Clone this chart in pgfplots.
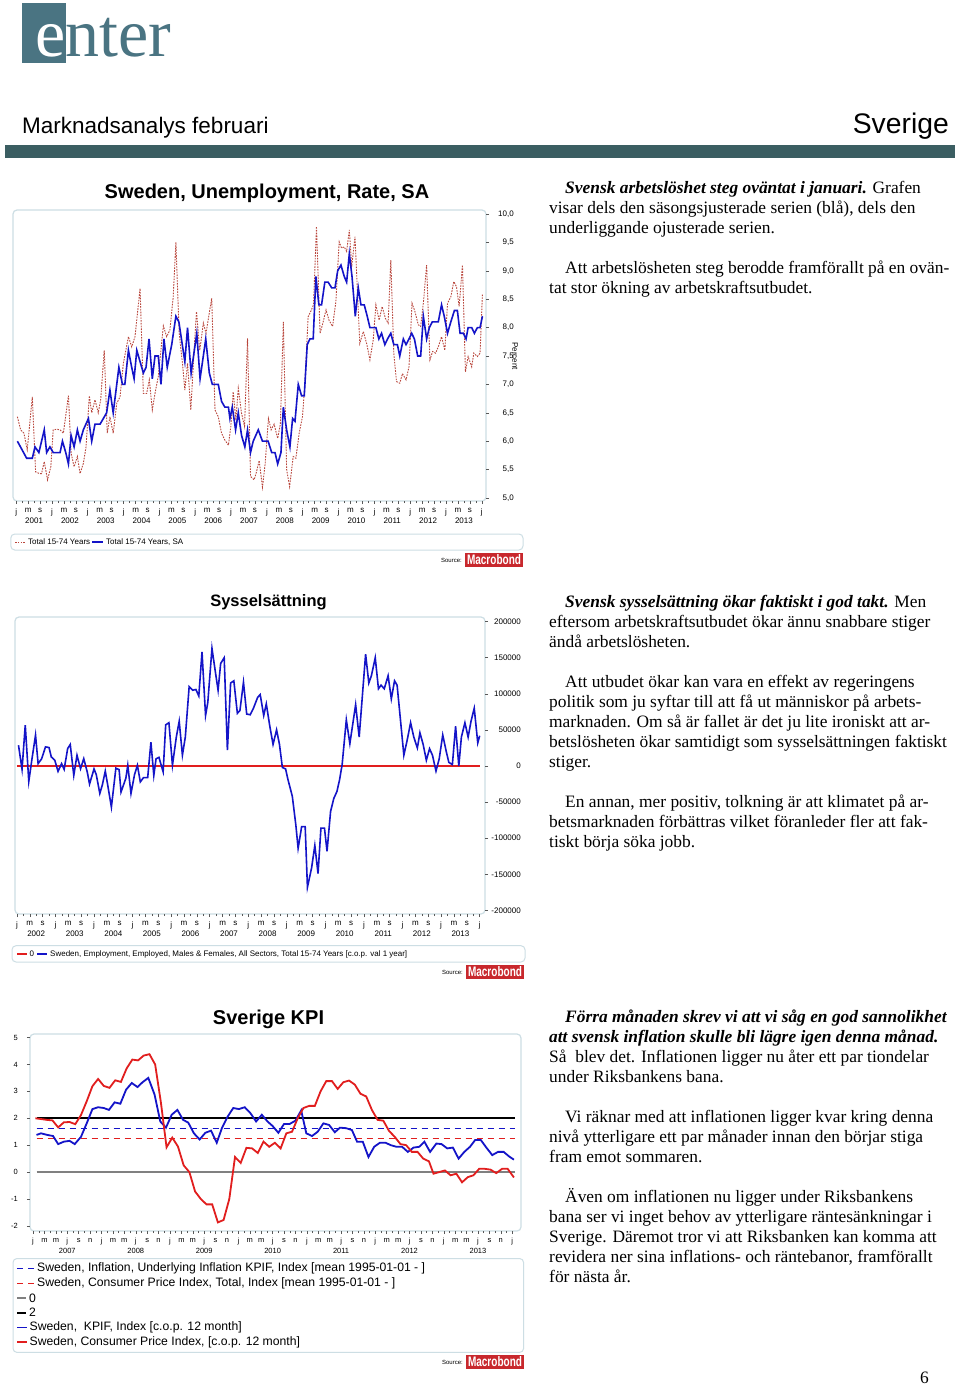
\documentclass[border=0pt]{standalone}
\usepackage{fontspec}
\usepackage{graphicx}
\usepackage{pgfplots}
\pgfplotsset{compat=1.18}
\setmainfont{Liberation Serif}
\newfontfamily\arial{Liberation Sans}
\newfontfamily\tnr{Liberation Serif}

\definecolor{logoteal}{RGB}{74,116,130}
\definecolor{barteal}{RGB}{59,94,98}
\definecolor{framecol}{RGB}{205,222,228}
\definecolor{ublue}{RGB}{20,20,200}
\definecolor{ured}{RGB}{185,70,60}
\definecolor{kred}{RGB}{225,30,30}
\definecolor{mbred}{RGB}{200,40,45}

\newcommand\tl[3]{\node[anchor=base west,inner sep=0pt,font=\tnr\fontsize{17.4}{20}\selectfont] at (#1pt,-#2pt) {#3};}
\newcommand\mblogo[2]{%
  \fill[mbred] (#1pt,-#2pt) rectangle ++(58pt,-14pt);
  \node[text=white,inner sep=0pt,font=\arial\bfseries] at (#1pt+29pt,-#2pt-7pt) {\resizebox{54pt}{10pt}{Macrobond}};
  \node[anchor=east,inner sep=0pt,font=\arial\fontsize{6}{7}\selectfont] at (#1pt-3pt,-#2pt-7pt) {Source:};}

\pgfplotsset{
  pagechart/.style={
    scale only axis, anchor=south west,
    axis x line*=bottom, axis line style={draw=none},
    tick align=outside, major tick length=3pt, minor tick length=2pt,
    tick style={black!65, line width=0.5pt},
    ticklabel style={font=\arial\fontsize{8}{9}\selectfont},
    xticklabel style={inner sep=0pt, yshift=-4pt},
    extra x tick style={tick style={draw=none}, xticklabel style={yshift=-10pt}},
    /pgf/number format/assume math mode=true,
  },
}

\begin{document}
\begin{tikzpicture}
\useasboundingbox (0pt,0pt) rectangle (960pt,-1386pt);
\fill[white] (0pt,0pt) rectangle (960pt,-1386pt);

% ---------- header ----------
\fill[logoteal] (22pt,-3pt) rectangle (66pt,-63pt);
\node[anchor=base west,inner sep=0pt,text=white,font=\tnr\fontsize{68}{68}\selectfont] (e) at (35pt,-57pt) {e};
\node[anchor=base west,inner sep=0pt,text=logoteal,font=\tnr\fontsize{68}{68}\selectfont] at (e.base east) {nter};
\node[anchor=base west,inner sep=0pt,font=\arial\fontsize{22.5}{24}\selectfont] at (22pt,-134pt) {Marknadsanalys februari};
\node[anchor=base east,inner sep=0pt,font=\arial\fontsize{28.3}{30}\selectfont] at (949pt,-134pt) {Sverige};
\fill[barteal] (5pt,-145pt) rectangle (955pt,-158pt);

% ---------- chart 1 ----------
\node[anchor=base,inner sep=0pt,font=\arial\bfseries\fontsize{20}{22}\selectfont] at (267pt,-198.5pt) {Sweden, Unemployment, Rate, SA};
\draw[framecol,line width=1.2pt,rounded corners=4pt] (13pt,-210pt) rectangle (486pt,-501pt);
\begin{axis}[pagechart,
  at={(13pt,-501pt)}, width=473pt, height=291pt,
  xmin=-1.07, xmax=157.39, ymin=4.947, ymax=10.07,
  axis y line*=right,
  xtick={0,4,...,156}, minor xtick={2,6,...,154},
  xticklabels={j,m,s,j,m,s,j,m,s,j,m,s,j,m,s,j,m,s,j,m,s,j,m,s,j,m,s,j,m,s,j,m,s,j,m,s,j,m,s,j},
  extra x ticks={6,18,30,42,54,66,78,90,102,114,126,138,150},
  extra x tick labels={2001,2002,2003,2004,2005,2006,2007,2008,2009,2010,2011,2012,2013},
  ytick={5,5.5,6,6.5,7,7.5,8,8.5,9,9.5,10},
  yticklabels={{5,0},{5,5},{6,0},{6,5},{7,0},{7,5},{8,0},{8,5},{9,0},{9,5},{10,0}},
  yticklabel style={anchor=east, inner sep=0pt, xshift=25pt},
]
\addplot[ured, line width=0.9pt, dash pattern=on 1.6pt off 1.2pt] coordinates {
(0.4,6.43)(1.5,6.2)(2.6,6.14)(3.7,5.85)(5.4,6.78)(6.5,5.46)(7.8,5.43)(8.5,5.43)(9.4,5.64)(10.5,5.32)(11.6,5.55)
(12.4,6.2)(13.6,6.21)(14.7,6.2)(15.8,6.14)(17.5,6.8)(18.4,5.79)(19.4,5.55)(20.5,5.73)(21.4,5.43)(22.5,5.61)(23.4,5.9)
(24.5,6.8)(25.3,6.5)(26.4,6.73)(27.5,6.5)(28.3,6.73)(29.5,7.6)(30.5,6.14)(31.4,6.43)(32.5,6.14)(33.7,6.67)(34.8,6.78)(35.9,7.37)
(37.6,7.84)(38.7,7.66)(39.8,7.84)(41.5,8.69)(42.6,6.84)(43.7,6.84)(44.6,7.08)(45.6,6.55)(46.5,6.84)(47.6,7.14)
(49.3,8.03)(50.4,7.84)(51.5,7.96)(52.6,8.54)(53.5,9.5)(54.6,7.9)(55.7,7.37)(56.5,6.9)(57.4,7.37)(58.5,6.55)(59.6,7.6)
(60.4,8.28)(61.5,7.6)(62.7,8.08)(63.6,7.9)(65.5,8.52)(66.6,6.55)(67.7,6.43)(68.8,6.14)(69.9,6.02)(71.1,5.93)(71.9,6.26)
(72.7,6.87)(73.6,6.37)(74.4,6.93)(75.5,6.49)(76.5,6.26)(77.5,7.81)(78.5,5.38)(79.7,5.32)(80.5,5.46)(81.4,5.66)(82.5,5.19)(83.4,5.6)
(84.5,6.4)(85.4,6.2)(86.4,6.3)(87.6,6.05)(88.5,6.3)(89.5,8.1)(90.6,5.5)(91.6,5.2)(92.8,5.73)(93.7,5.7)(94.8,6.14)(95.9,6.43)
(96.7,6.99)(97.8,8.19)(98.8,8.3)(99.6,8.4)(100.6,9.78)(101.8,7.9)(102.6,8.05)(103.8,8.31)(104.8,8.13)(106.0,8.02)(107.1,8.46)
(108.2,9.51)(109.0,9.4)(109.9,9.42)(110.7,9.34)(111.6,9.72)(112.4,9.07)(113.5,9.6)(114.4,8.54)(115.1,7.72)(116.3,7.93)(117.4,7.72)(118.5,7.43)(119.6,7.78)
(120.5,8.4)(121.6,8.13)(122.6,8.37)(123.7,8.16)(124.6,8.08)(125.5,9.19)(126.5,7.55)(127.4,7.05)(128.5,7.02)(129.4,7.19)(130.6,7.08)(131.6,7.31)
(132.6,8.43)(133.6,8.28)(134.7,8.05)(135.5,8.02)(136.4,8.43)(137.5,9.1)(138.6,7.43)(139.5,7.58)(140.5,7.55)(141.4,7.66)(142.5,7.84)(143.6,7.6)
(144.5,8.43)(145.6,8.54)(146.6,8.81)(147.5,8.72)(148.4,8.37)(149.5,9.1)(150.5,7.22)(151.4,7.49)(152.6,7.31)(153.3,7.55)(154.5,7.49)(155.4,7.55)(156.2,8.6)
};
\addplot[ublue, line width=1.6pt] coordinates {
(0.4,6.0)(3.5,5.7)(5.4,5.7)(6.3,5.9)(7.6,5.8)(9.4,6.2)(10.2,5.8)(11.3,5.9)(12.4,5.8)(14.7,5.8)(15.5,6.0)(16.6,5.8)
(17.5,5.6)(18.4,6.1)(19.4,5.9)(20.5,6.2)(21.4,6.0)(22.5,6.2)(24.2,6.4)(25.3,6.0)(26.4,6.3)(28.1,6.3)(29.2,6.4)(30.3,6.5)
(31.4,6.9)(32.5,6.5)(34.4,7.3)(35.6,7.0)(36.4,7.0)(37.6,7.6)(38.7,7.3)(39.5,7.1)(40.4,7.6)(41.5,7.4)(42.6,7.2)(43.5,7.3)
(44.5,7.8)(45.6,7.1)(46.5,7.5)(47.6,7.5)(48.5,7.0)(49.5,7.8)(50.6,7.3)(52.1,7.7)(53.5,8.2)(54.5,8.1)(56.5,7.4)(57.4,8.0)
(58.6,7.2)(60.5,7.9)(61.6,7.1)(63.5,7.8)(64.7,7.2)(65.7,7.0)(67.7,7.0)(68.8,6.7)(69.9,6.6)(71.1,6.6)(71.6,6.4)(72.4,6.6)
(73.5,6.2)(74.4,6.5)(75.5,6.1)(76.6,5.9)(77.5,6.2)(78.5,5.8)(79.4,6.0)(81.1,6.2)(82.5,6.0)(84.4,6.0)(85.6,5.8)(86.7,5.8)
(87.6,5.6)(88.7,5.8)(89.5,6.6)(90.6,6.2)(91.7,5.9)(92.6,6.4)(93.4,6.35)(94.5,7.0)(95.6,6.8)(96.5,6.8)(97.5,7.7)(98.4,7.8)
(99.5,7.8)(100.4,8.9)(101.4,8.4)(102.3,8.4)(103.4,8.8)(104.5,8.8)(105.7,8.7)(106.8,8.7)(107.7,9.0)(108.8,9.1)(109.9,8.9)
(110.7,8.8)(111.6,9.3)(112.5,8.9)(113.6,8.2)(114.6,8.7)(115.5,8.4)(116.6,8.4)(117.6,8.2)(118.5,8.0)(119.6,8.0)(120.5,8.0)
(121.5,7.8)(122.4,7.9)(123.5,7.7)(124.4,7.8)(125.5,7.9)(126.5,7.7)(127.7,7.7)(128.5,7.5)(129.7,7.8)(130.6,7.7)(131.6,7.8)
(132.5,7.9)(133.4,7.8)(134.5,7.5)(135.5,7.5)(136.4,8.2)(137.5,7.8)(138.4,8.0)(139.4,8.1)(141.4,8.1)(142.5,8.4)(143.4,8.2)
(144.5,7.9)(145.6,8.1)(146.8,8.3)(147.8,8.3)(148.7,7.9)(149.8,7.9)(150.7,7.8)(151.4,8.0)(152.6,8.0)(153.5,7.9)(154.5,8.0)
(155.4,8.0)(156.2,8.2)
};
\end{axis}
\node[rotate=-90,inner sep=0pt,font=\arial\fontsize{8}{9}\selectfont] at (515pt,-356pt) {Percent};
\draw[framecol,line width=1pt,rounded corners=4pt] (10.8pt,-534pt) rectangle (523pt,-550pt);
\draw[ured,line width=0.9pt,dash pattern=on 1.6pt off 1.2pt] (15pt,-542pt) -- (25pt,-542pt);
\node[anchor=west,inner sep=0pt,font=\arial\fontsize{8}{9}\selectfont] at (28pt,-542pt) {Total 15-74 Years};
\draw[ublue,line width=1.6pt] (92pt,-542pt) -- (103pt,-542pt);
\node[anchor=west,inner sep=0pt,font=\arial\fontsize{8}{9}\selectfont] at (106pt,-542pt) {Total 15-74 Years, SA};
\mblogo{465}{553}

% ---------- chart 2 ----------
\node[anchor=base,inner sep=0pt,font=\arial\bfseries\fontsize{16.5}{18}\selectfont] at (268.5pt,-606.4pt) {Sysselsättning};
\draw[framecol,line width=1.2pt,rounded corners=4pt] (15pt,-617pt) rectangle (485pt,-914pt);
\begin{axis}[pagechart,
  at={(15pt,-914pt)}, width=470pt, height=297pt,
  xmin=-0.59, xmax=145.65, ymin=-205, ymax=206.4,
  axis y line*=right,
  xtick={0,4,...,144}, minor xtick={2,6,...,142},
  xticklabels={j,m,s,j,m,s,j,m,s,j,m,s,j,m,s,j,m,s,j,m,s,j,m,s,j,m,s,j,m,s,j,m,s,j,m,s,j},
  extra x ticks={6,18,30,42,54,66,78,90,102,114,126,138},
  extra x tick labels={2002,2003,2004,2005,2006,2007,2008,2009,2010,2011,2012,2013},
  ytick={-200,-150,-100,-50,0,50,100,150,200},
  yticklabels={-200000,-150000,-100000,-50000,0,50000,100000,150000,200000},
  yticklabel style={anchor=east, inner sep=0pt, xshift=33pt},
]
\addplot[kred, line width=1.2pt] coordinates {(0,0)(144,0)};
\addplot[ublue, line width=1.6pt] coordinates {
(0.5,28.8)(1.6,-4.6)(2.6,56.7)(3.7,-21.3)(4.7,10)(5.8,42.8)(6.6,3.3)(7.7,10)(8.9,26.5)(10.0,25.6)(10.7,12.6)(11.8,7.9)
(12.8,-7.4)(13.9,3.3)(14.7,-4.6)(15.8,24.2)(16.6,29.8)(17.7,-13)(18.7,14.9)(19.8,-3.7)(20.8,10.2)(21.9,-8.4)(22.6,-25)
(24.0,-4)(24.7,-12)(25.8,-38)(26.6,-26)(27.5,-7)(28.4,-30)(29.4,-57)(30.8,-3)(31.8,-5)(32.4,-36)(33.9,-17)(34.5,1)
(35.5,-38)(36.6,-12)(37.5,1)(38.4,-22)(39.4,-16)(40.7,-16)(41.7,33)(42.6,-13)(43.3,10)(44.2,12)(45.5,-8)(46.3,57)
(47.3,60)(48.4,1)(49.6,40)(50.5,62)(51.5,15)(52.4,40)(53.6,110)(54.7,105)(55.7,106)(56.6,97)(57.6,158)(58.7,70)
(59.4,88)(60.7,163)(61.7,132)(62.6,105)(63.4,142)(64.5,150)(65.5,22)(66.5,115)(67.5,118)(68.6,73)(69.4,77)(70.5,116)
(71.5,72)(72.6,71)(73.6,80)(74.9,95)(75.7,99)(76.8,70)(77.6,86)(78.7,55)(79.7,30)(80.8,50)(81.7,30)(82.6,-2)(83.6,-4)
(84.3,-18)(85.7,-42)(86.8,-82)(87.5,-114)(88.6,-84)(89.7,-84)(90.4,-168)(91.7,-141)(92.7,-110)(93.7,-149)(94.6,-86)
(95.7,-86)(96.5,-118)(97.6,-63)(98.6,-45)(99.6,-35)(100.4,-19)(101.2,2)(102.5,64)(103.6,31)(105.4,85)(106.5,40)
(108.5,155)(109.5,115)(110.3,125)(111.5,150)(112.5,107)(113.3,112)(114.3,107)(115.5,125)(116.5,93)(117.5,118)(118.3,112)
(119.3,66)(120.4,15)(121.4,35)(122.5,60)(123.5,40)(124.6,25)(125.4,46)(126.4,30)(127.4,8)(128.4,24)(129.3,15)(130.4,-7)
(131.4,10)(132.5,43)(133.6,20)(134.4,5)(135.5,2)(136.5,55)(137.5,0)(138.3,40)(139.4,60)(140.4,40)(141.3,62)(142.3,80)
(143.4,32)(144.0,42)
};
\end{axis}
\draw[framecol,line width=1pt,rounded corners=4pt] (12pt,-945.7pt) rectangle (525pt,-962pt);
\draw[kred,line width=1.2pt] (17pt,-954pt) -- (27pt,-954pt);
\node[anchor=west,inner sep=0pt,font=\arial\fontsize{8}{9}\selectfont] at (29.5pt,-954pt) {0};
\draw[ublue,line width=1.6pt] (37pt,-954pt) -- (47pt,-954pt);
\node[anchor=west,inner sep=0pt,font=\arial\fontsize{8}{9}\selectfont] at (50pt,-954pt) {Sweden, Employment, Employed, Males \& Females, All Sectors, Total 15-74 Years [c.o.p. val 1 year]};
\mblogo{466}{965}

% ---------- chart 3 ----------
\node[anchor=base,inner sep=0pt,font=\arial\bfseries\fontsize{20}{22}\selectfont] at (268.5pt,-1024.3pt) {Sverige KPI};
\draw[framecol,line width=1.2pt,rounded corners=4pt] (30pt,-1034pt) rectangle (521pt,-1231pt);
\begin{axis}[pagechart,
  at={(30pt,-1231pt)}, width=491pt, height=197pt,
  xmin=-0.54, xmax=85.54, ymin=-2.19, ymax=5.13,
  axis y line*=left,
  ticklabel style={font=\arial\fontsize{7.5}{9}\selectfont},
  xtick={0,2,...,84}, minor xtick={1,3,...,83},
  xticklabels={j,m,m,j,s,n,j,m,m,j,s,n,j,m,m,j,s,n,j,m,m,j,s,n,j,m,m,j,s,n,j,m,m,j,s,n,j,m,m,j,s,n,j},
  extra x ticks={6,18,30,42,54,66,78},
  extra x tick labels={2007,2008,2009,2010,2011,2012,2013},
  ytick={-2,-1,0,1,2,3,4,5},
  yticklabels={-2,-1,0,1,2,3,4,5},
  yticklabel style={anchor=east, inner sep=0pt, xshift=-9pt},
]
\addplot[ublue, line width=1.5pt, dash pattern=on 6pt off 5pt] coordinates {(0.6,1.625)(84.4,1.625)};
\addplot[kred, line width=1.5pt, dash pattern=on 6pt off 5pt] coordinates {(0.6,1.25)(84.4,1.25)};
\addplot[black!50, line width=1.2pt] coordinates {(0.6,0)(84.4,0)};
\addplot[black, line width=1.8pt] coordinates {(0.6,2)(84.4,2)};
\addplot[ublue, line width=1.8pt] coordinates {
(0.6,1.38)(1.4,1.44)(2.5,1.38)(3.5,1.34)(4.4,1.04)(5.4,1.13)(6.4,1.16)(7.3,1.04)(8.4,1.31)(9.4,1.81)(10.4,2.34)(11.4,2.41)
(12.4,2.38)(13.3,2.31)(14.3,2.59)(15.3,2.54)(16.3,3.06)(17.3,3.31)(18.3,3.16)(19.2,3.34)(20.2,3.5)(21.3,2.88)(22.3,1.88)
(23.3,1.65)(24.3,2.13)(25.3,2.31)(26.3,1.94)(27.2,1.84)(28.2,1.44)(29.2,1.21)(30.2,1.46)(31.2,1.54)(32.2,1.09)(33.1,1.63)
(34.1,2.06)(35.1,2.38)(36.1,2.34)(37.1,2.41)(38.1,2.19)(39.1,1.88)(40.1,2.13)(41.1,1.88)(42.0,1.71)(43.0,1.46)(44.0,1.79)
(45.0,1.79)(46.0,1.91)(47.0,2.29)(47.9,1.44)(48.9,1.34)(49.9,1.5)(50.9,1.81)(51.9,1.75)(52.9,1.48)(53.8,1.65)(54.9,1.63)
(55.9,1.56)(56.8,1.13)(57.8,1.13)(58.8,0.56)(59.8,0.94)(60.8,1.09)(61.8,1.09)(62.7,1.0)(63.7,0.94)(64.7,0.94)(65.7,0.75)
(66.7,0.91)(67.7,0.94)(68.6,1.13)(69.6,0.75)(70.7,1.06)(71.6,1.04)(72.6,0.88)(73.6,0.91)(74.6,0.5)(75.6,0.75)(76.6,0.94)
(77.5,1.19)(78.5,1.19)(79.5,0.9)(80.5,0.63)(81.5,0.75)(82.5,0.75)(83.4,0.59)(84.3,0.46)
};
\addplot[kred, line width=1.8pt] coordinates {
(0.4,2.0)(1.4,1.97)(2.4,1.94)(3.4,1.92)(4.4,1.66)(5.4,1.85)(6.4,1.86)(7.4,1.78)(8.4,2.12)(9.4,2.63)(10.4,3.19)(11.4,3.46)
(12.4,3.2)(13.4,3.13)(14.4,3.41)(15.4,3.35)(16.4,3.85)(17.4,4.18)(18.4,4.15)(19.4,4.33)(20.4,4.38)(21.4,4.0)(22.4,2.6)
(23.4,0.92)(24.4,1.28)(25.4,0.95)(26.4,0.25)(27.4,0.0)(28.4,-0.72)(29.4,-1.0)(30.4,-1.2)(31.4,-1.2)(32.4,-1.87)(33.4,-1.78)
(34.4,-1.0)(35.4,0.56)(36.4,0.34)(37.4,0.9)(38.4,0.88)(39.4,0.71)(40.4,1.13)(41.4,0.94)(42.4,1.09)(43.4,0.88)(44.4,1.44)
(45.4,1.5)(46.4,2.0)(47.4,2.38)(48.4,2.46)(49.4,2.46)(50.4,3.0)(51.4,3.38)(52.4,3.38)(53.4,3.09)(54.4,3.34)(55.4,3.4)
(56.4,3.25)(57.4,2.91)(58.4,2.81)(59.4,2.31)(60.4,1.94)(61.4,1.91)(62.4,1.53)(63.4,1.31)(64.4,1.04)(65.4,1.0)(66.4,0.75)
(67.4,0.75)(68.4,0.5)(69.4,0.4)(70.2,-0.06)(71.2,0.0)(72.2,0.06)(73.2,-0.12)(74.2,-0.06)(75.2,-0.38)(76.2,-0.19)(77.2,-0.12)
(78.2,0.12)(79.2,0.12)(80.2,0.09)(81.2,-0.04)(82.2,0.12)(83.2,0.12)(84.3,-0.2)
};
\end{axis}
\draw[framecol,line width=1pt,rounded corners=4pt] (13pt,-1258.5pt) rectangle (523.6pt,-1352.4pt);
\begin{scope}[every node/.style={anchor=west,inner sep=0pt,font=\arial\fontsize{12.2}{13}\selectfont}]
\draw[ublue,line width=1.5pt,dash pattern=on 6pt off 5pt] (17pt,-1268.6pt) -- (34pt,-1268.6pt);
\node at (37pt,-1268.6pt) {Sweden, Inflation, Underlying Inflation KPIF, Index [mean 1995-01-01 - ]};
\draw[kred,line width=1.5pt,dash pattern=on 6pt off 5pt] (17pt,-1283.3pt) -- (34pt,-1283.3pt);
\node at (37pt,-1283.3pt) {Sweden, Consumer Price Index, Total, Index [mean 1995-01-01 - ]};
\draw[black!50,line width=1.2pt] (17pt,-1298pt) -- (26pt,-1298pt);
\node at (29pt,-1298pt) {0};
\draw[black,line width=1.8pt] (17pt,-1312.7pt) -- (26pt,-1312.7pt);
\node at (29pt,-1312.7pt) {2};
\draw[ublue,line width=1.8pt] (17pt,-1327.4pt) -- (27pt,-1327.4pt);
\node at (29.5pt,-1327.4pt) {Sweden,\ \ KPIF, Index [c.o.p. 12 month]};
\draw[kred,line width=1.8pt] (17pt,-1342.2pt) -- (27pt,-1342.2pt);
\node at (29.5pt,-1342.2pt) {Sweden, Consumer Price Index, [c.o.p. 12 month]};
\end{scope}
\mblogo{466}{1355}

% ---------- text ----------
\tl{565}{193}{\textbf{\textit{Svensk arbetslöshet steg oväntat i januari.}} Grafen}
\tl{549}{213}{visar dels den säsongsjusterade serien (blå), dels den}
\tl{549}{233}{underliggande ojusterade serien.}
\tl{565}{273}{Att arbetslösheten steg berodde framförallt på en ovän-}
\tl{549}{293}{tat stor ökning av arbetskraftsutbudet.}

\tl{565}{607}{\textbf{\textit{Svensk sysselsättning ökar faktiskt i god takt.}} Men}
\tl{549}{627}{eftersom arbetskraftsutbudet ökar ännu snabbare stiger}
\tl{549}{647}{ändå arbetslösheten.}
\tl{565}{687}{Att utbudet ökar kan vara en effekt av regeringens}
\tl{549}{707}{politik som ju syftar till att få ut människor på arbets-}
\tl{549}{727}{marknaden. Om så är fallet är det ju lite ironiskt att ar-}
\tl{549}{747}{betslösheten ökar samtidigt som sysselsättningen faktiskt}
\tl{549}{767}{stiger.}
\tl{565}{807}{En annan, mer positiv, tolkning är att klimatet på ar-}
\tl{549}{827}{betsmarknaden förbättras vilket föranleder fler att fak-}
\tl{549}{847}{tiskt börja söka jobb.}

\tl{565}{1022}{\textbf{\textit{Förra månaden skrev vi att vi såg en god sannolikhet}}}
\tl{549}{1042}{\textbf{\textit{att svensk inflation skulle bli lägre igen denna månad.}}}
\tl{549}{1062}{Så\ \ blev det. Inflationen ligger nu åter ett par tiondelar}
\tl{549}{1082}{under Riksbankens bana.}
\tl{565}{1122}{Vi räknar med att inflationen ligger kvar kring denna}
\tl{549}{1142}{nivå ytterligare ett par månader innan den börjar stiga}
\tl{549}{1162}{fram emot sommaren.}
\tl{565}{1202}{Även om inflationen nu ligger under Riksbankens}
\tl{549}{1222}{bana ser vi inget behov av ytterligare räntesänkningar i}
\tl{549}{1242}{Sverige. Däremot tror vi att Riksbanken kan komma att}
\tl{549}{1262}{revidera ner sina inflations- och räntebanor, framförallt}
\tl{549}{1282}{för nästa år.}

\node[anchor=base west,inner sep=0pt,font=\tnr\fontsize{17.4}{20}\selectfont] at (920pt,-1383pt) {6};
\end{tikzpicture}
\end{document}
